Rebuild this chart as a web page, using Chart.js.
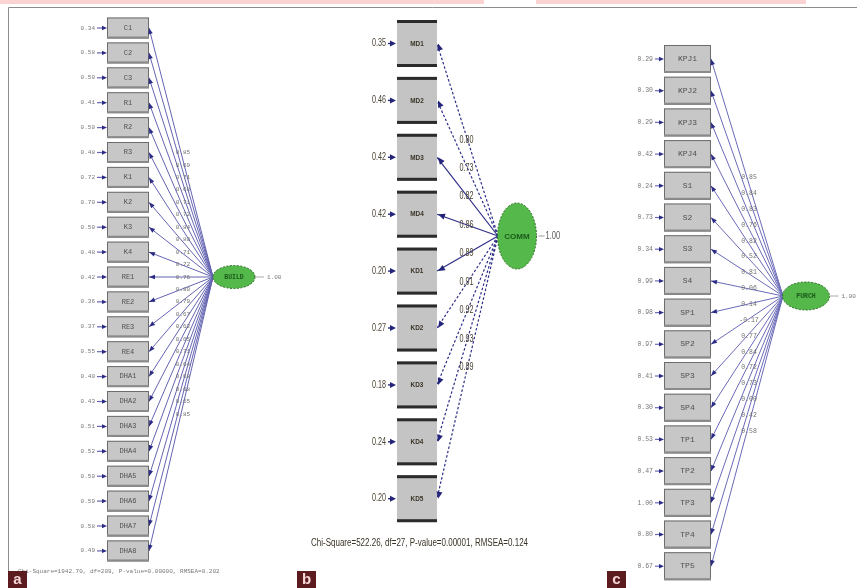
<!DOCTYPE html>
<html><head><meta charset="utf-8">
<script src="https://cdn.jsdelivr.net/npm/chart.js@4.4.1/dist/chart.umd.min.js"></script>
<style>html,body{margin:0;padding:0;background:#fff;}#wrap{width:857px;height:588px;}</style>
</head><body><div id="wrap"><canvas id="c" width="857" height="588"></canvas></div>
<script>
// ---------- DATA ----------
const buildItems = ['C1','C2','C3','R1','R2','R3','K1','K2','K3','K4','RE1','RE2','RE3','RE4','DHA1','DHA2','DHA3','DHA4','DHA5','DHA6','DHA7','DHA8'];
const buildErrors = [0.34,0.58,0.50,0.41,0.50,0.48,0.72,0.70,0.50,0.48,0.42,0.36,0.37,0.55,0.40,0.43,0.51,0.52,0.50,0.59,0.58,0.49];
const buildLoadings = [0.85,0.69,0.71,0.68,0.71,0.72,0.84,0.80,0.71,0.72,0.76,0.80,0.79,0.67,0.62,0.65,0.71,0.64,0.68,0.68,0.65,0.85];
const buildLatent = 'BUILD';
const buildFit = 'Chi-Square=1942.70, df=209, P-value=0.00000, RMSEA=0.202';

const commItems = ['MD1','MD2','MD3','MD4','KD1','KD2','KD3','KD4','KD5'];
const commErrors = [0.35,0.46,0.42,0.42,0.20,0.27,0.18,0.24,0.20];
const commLoadings = [0.80,0.73,0.82,0.86,0.89,0.91,0.92,0.93,0.89];
const commLatent = 'COMM';
const commFit = 'Chi-Square=522.26, df=27, P-value=0.00001, RMSEA=0.124';

const purchItems = ['KPJ1','KPJ2','KPJ3','KPJ4','S1','S2','S3','S4','SP1','SP2','SP3','SP4','TP1','TP2','TP3','TP4','TP5'];
const purchErrors = [0.29,0.30,0.29,0.42,0.24,0.73,0.34,0.99,0.98,0.97,0.41,0.30,0.53,0.47,1.00,0.80,0.67];
const purchLoadings = [0.85,0.84,0.83,0.76,0.82,0.52,0.81,0.06,0.14,-0.17,0.77,0.84,0.72,0.73,0.00,0.42,0.58];
const purchLatent = 'PURCH';

const latentVariance = 1.00;
const panelLetters = ['a','b','c'];

// ---------- LAYOUT (positions & styles) ----------
const LA = {boxL:107, boxR:149, boxH:21, y0:28, step:24.9, cx:234, cy:277, rx:21, ry:11.5, lat:213, errX:95, arrL:97,
  line:'#6464b2', lw:1, head:'#2c2c84', font:'7px "Liberation Mono"', valFont:'6px "Liberation Mono"'};
const LB = {boxL:397, boxR:437, boxH:47, y0:43.5, step:56.9, cx:517, cy:236, rx:19.5, ry:33, lat:498, errX:386, arrL:388,
  line:'#2e2e88', lw:1.2, head:'#24247a'};
const LC = {boxL:664, boxR:711, boxH:28, y0:59, step:31.7, cx:806, cy:296, rx:23.5, ry:14, lat:783, errX:653, arrL:655,
  line:'#6a6ab8', lw:1, head:'#2c2c84', font:'8px "Liberation Mono"', valFont:'6.5px "Liberation Mono"'};
const dashB = i => (i < 2 || i > 4) ? [2.5, 2] : [];

function paths(items, L, dashFn) {
  return items.map((n, i) => ({
    data: [{x: L.lat, y: L.cy}, {x: L.boxR, y: L.y0 + i * L.step}],
    showLine: true, borderColor: L.line, borderWidth: L.lw, pointRadius: 0,
    borderDash: dashFn ? dashFn(i) : [], fill: false, tension: 0
  }));
}

function narrowText(ctx, t, x, y, sx, align) {
  ctx.save(); ctx.translate(x, y); ctx.scale(sx, 1); ctx.textAlign = align || 'left'; ctx.fillText(t, 0, 0); ctx.restore();
}
function head(ctx, x1, y1, x2, y2, len, hw, color) {
  const a = Math.atan2(y2 - y1, x2 - x1);
  ctx.save(); ctx.fillStyle = color; ctx.beginPath();
  ctx.moveTo(x2, y2);
  ctx.lineTo(x2 - len * Math.cos(a) + hw * Math.sin(a), y2 - len * Math.sin(a) - hw * Math.cos(a));
  ctx.lineTo(x2 - len * Math.cos(a) - hw * Math.sin(a), y2 - len * Math.sin(a) + hw * Math.cos(a));
  ctx.closePath(); ctx.fill(); ctx.restore();
}
function ellipse(ctx, X, Y, L, name, font) {
  ctx.save();
  ctx.beginPath(); ctx.ellipse(X(L.cx), Y(L.cy), L.rx, L.ry, 0, 0, Math.PI * 2);
  ctx.fillStyle = '#54b84a'; ctx.fill();
  ctx.setLineDash([2, 1.5]); ctx.strokeStyle = '#2f6a2a'; ctx.lineWidth = 1; ctx.stroke();
  ctx.setLineDash([]);
  ctx.fillStyle = '#1c5a1c'; ctx.font = font; ctx.textAlign = 'center'; ctx.textBaseline = 'middle';
  ctx.fillText(name, X(L.cx), Y(L.cy) + 0.5);
  ctx.restore();
}

const diagram = {
  id: 'diagram',
  beforeDatasetsDraw(chart) {
    const ctx = chart.ctx, X = v => chart.scales.x.getPixelForValue(v), Y = v => chart.scales.y.getPixelForValue(v);
    ctx.save();
    ctx.fillStyle = '#fbd3d3';
    ctx.fillRect(X(0), Y(0), X(484) - X(0), 4);
    ctx.fillRect(X(536), Y(0), X(806) - X(536), 4);
    ctx.strokeStyle = '#8c8c8c'; ctx.lineWidth = 1;
    ctx.beginPath(); ctx.moveTo(X(8.5), Y(588)); ctx.lineTo(X(8.5), Y(7.5)); ctx.lineTo(X(857), Y(7.5)); ctx.stroke();
    ctx.restore();
  },
  afterDatasetsDraw(chart) {
    const ctx = chart.ctx, X = v => chart.scales.x.getPixelForValue(v), Y = v => chart.scales.y.getPixelForValue(v);
    ctx.save();
    ctx.textBaseline = 'middle';
    // ---- panels a and c (LISREL boxes) ----
    [[buildItems, buildErrors, buildLoadings, LA], [purchItems, purchErrors, purchLoadings, LC]].forEach(([items, errs, loads, L]) => {
      items.forEach((name, i) => {
        const yc = L.y0 + i * L.step;
        const x0 = X(L.boxL), x1 = X(L.boxR), yt = Y(yc - L.boxH / 2), yb = Y(yc + L.boxH / 2);
        ctx.fillStyle = '#c7c7c7'; ctx.fillRect(x0, yt, x1 - x0, yb - yt);
        ctx.strokeStyle = '#6c6c6c'; ctx.lineWidth = 1; ctx.strokeRect(x0 + 0.5, yt + 0.5, x1 - x0 - 1, yb - yt - 1);
        ctx.fillStyle = '#8a8a8a'; ctx.fillRect(x0, yb - 2, x1 - x0, 2);
        ctx.fillStyle = '#505050'; ctx.font = L.font; ctx.textAlign = 'center';
        ctx.fillText(name, (x0 + x1) / 2, Y(yc));
        // error arrow
        ctx.strokeStyle = L.line; ctx.lineWidth = 1.2;
        ctx.beginPath(); ctx.moveTo(X(L.arrL), Y(yc)); ctx.lineTo(x0 - 3, Y(yc)); ctx.stroke();
        head(ctx, X(L.arrL), Y(yc), x0, Y(yc), 5, 2.2, L.head);
        ctx.fillStyle = '#777'; ctx.font = L.valFont; ctx.textAlign = 'right';
        ctx.fillText(errs[i].toFixed(2), X(L.errX), Y(yc));
        // arrowhead of loading path
        head(ctx, X(L.lat), Y(L.cy), x1, Y(yc), 6, 2.3, L.head);
        // loading label at path midpoint
        ctx.fillStyle = '#707070'; ctx.font = L.valFont; ctx.textAlign = 'center';
        ctx.fillText(loads[i].toFixed(2), X((L.lat + L.boxR) / 2 + 2), Y((L.cy + yc) / 2));
      });
    });
    ellipse(ctx, X, Y, LA, buildLatent, 'bold 6.5px "Liberation Mono"');
    ellipse(ctx, X, Y, LC, purchLatent, 'bold 6.5px "Liberation Mono"');
    [[LA, 255], [LC, 829.5]].forEach(([L, xr]) => {
      ctx.strokeStyle = '#aaa'; ctx.lineWidth = 1;
      ctx.beginPath(); ctx.moveTo(X(L.cx + L.rx), Y(L.cy)); ctx.lineTo(X(L.cx + L.rx + 9), Y(L.cy)); ctx.stroke();
      ctx.fillStyle = '#777'; ctx.font = '6px "Liberation Mono"'; ctx.textAlign = 'left';
      ctx.fillText(latentVariance.toFixed(2), X(L.cx + L.rx + 12), Y(L.cy));
    });
    // ---- panel b ----
    commItems.forEach((name, i) => {
      const L = LB, yc = L.y0 + i * L.step;
      const x0 = X(L.boxL), x1 = X(L.boxR), yt = Y(yc - L.boxH / 2), yb = Y(yc + L.boxH / 2);
      ctx.fillStyle = '#c4c4c4'; ctx.fillRect(x0, yt, x1 - x0, yb - yt);
      ctx.fillStyle = '#2b2b2b'; ctx.fillRect(x0, yt, x1 - x0, 3); ctx.fillRect(x0, yb - 3, x1 - x0, 3);
      ctx.fillStyle = '#3a3426'; ctx.font = 'bold 8px "Liberation Sans"';
      narrowText(ctx, name, (x0 + x1) / 2, Y(yc), 0.8, 'center');
      ctx.strokeStyle = '#2a2a80'; ctx.lineWidth = 1.4;
      ctx.beginPath(); ctx.moveTo(X(L.arrL), Y(yc)); ctx.lineTo(x0 - 4, Y(yc)); ctx.stroke();
      head(ctx, X(L.arrL), Y(yc), x0 - 1, Y(yc), 6, 3, '#24247a');
      ctx.fillStyle = '#4a4232'; ctx.font = '10px "Liberation Sans"';
      narrowText(ctx, commErrors[i].toFixed(2), X(L.errX), Y(yc), 0.72, 'right');
      head(ctx, X(L.lat), Y(L.cy), x1 + 1, Y(yc), 7, 3, L.head);
      ctx.fillStyle = '#4a4232'; ctx.font = '10px "Liberation Sans"';
      narrowText(ctx, commLoadings[i].toFixed(2), X((L.lat + L.boxR) / 2 - 1), Y((L.cy + yc) / 2), 0.72, 'center');
    });
    ellipse(ctx, X, Y, LB, commLatent, 'bold 8px "Liberation Sans Narrow", "Liberation Sans"');
    ctx.strokeStyle = '#999'; ctx.lineWidth = 1;
    ctx.beginPath(); ctx.moveTo(X(LB.cx + LB.rx + 2), Y(LB.cy)); ctx.lineTo(X(LB.cx + LB.rx + 8), Y(LB.cy)); ctx.stroke();
    ctx.fillStyle = '#555'; ctx.font = '10px "Liberation Sans"';
    narrowText(ctx, latentVariance.toFixed(2), X(LB.cx + LB.rx + 9), Y(LB.cy), 0.75, 'left');
    // ---- fit statistics ----
    ctx.fillStyle = '#777'; ctx.font = '6px "Liberation Mono"'; ctx.textAlign = 'left';
    ctx.fillText(buildFit, X(18), Y(571));
    ctx.fillStyle = '#3a3426'; ctx.font = '10px "Liberation Sans"';
    narrowText(ctx, commFit, X(311), Y(543), 0.8, 'left');
    // ---- panel letters ----
    [[8, 0], [297, 1], [607, 2]].forEach(([x, k]) => {
      ctx.fillStyle = '#5c1b1f'; ctx.fillRect(X(x), Y(571), 19, 17);
      ctx.fillStyle = '#f6d6d6'; ctx.font = 'bold 15px "Liberation Sans"'; ctx.textAlign = 'center';
      ctx.fillText(panelLetters[k], X(x) + 9.5, Y(580));
    });
    ctx.restore();
  }
};

new Chart(document.getElementById('c'), {
  type: 'scatter',
  data: { datasets: [...paths(buildItems, LA), ...paths(commItems, LB, dashB), ...paths(purchItems, LC)] },
  options: {
    responsive: false, animation: false, devicePixelRatio: 1,
    layout: { padding: 0 },
    plugins: { legend: { display: false }, tooltip: { enabled: false } },
    scales: {
      x: { type: 'linear', min: 0, max: 857, display: false },
      y: { type: 'linear', min: 0, max: 588, reverse: true, display: false }
    }
  },
  plugins: [diagram]
});
</script></body></html>
